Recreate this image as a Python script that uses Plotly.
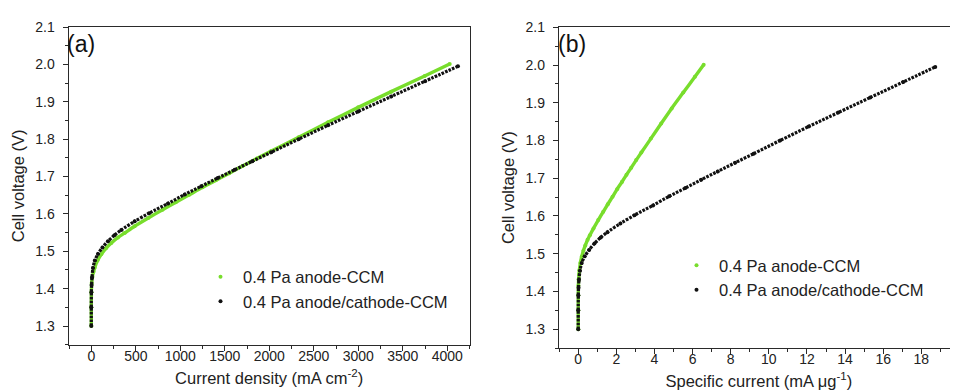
import plotly.graph_objects as go

# ---------------- data ----------------
# Panel (a): cell voltage vs current density (mA cm^-2)
a_green_current = [0, 0, 1, 4, 12, 25, 38, 70, 112, 165, 225, 300, 375, 487, 640, 800, 950,
                   1100, 1250, 1400, 1550, 1700, 1860, 2023, 2330, 2660, 3000, 3370, 3746, 4027]
a_green_voltage = [1.300, 1.350, 1.390, 1.415, 1.432, 1.445, 1.456, 1.475, 1.492, 1.508, 1.522,
                   1.537, 1.549, 1.567, 1.589, 1.611, 1.631, 1.651, 1.671, 1.690, 1.709, 1.728,
                   1.748, 1.768, 1.805, 1.845, 1.885, 1.927, 1.969, 2.001]

a_black_current = [0, 0, 1, 3, 8, 19, 40, 75, 125, 188, 260, 337, 487, 650, 862, 1050, 1236,
                   1420, 1611, 1810, 2023, 2330, 2660, 3000, 3370, 3750, 4120]
a_black_voltage = [1.300, 1.350, 1.390, 1.410, 1.430, 1.455, 1.475, 1.493, 1.510, 1.527, 1.543,
                   1.557, 1.580, 1.602, 1.628, 1.652, 1.674, 1.696, 1.718, 1.741, 1.765, 1.800,
                   1.837, 1.874, 1.914, 1.955, 1.995]

# Panel (b): cell voltage vs specific current (mA ug^-1)
b_green_current = [0, 0, 0.002, 0.007, 0.02, 0.04, 0.06, 0.11, 0.18, 0.27, 0.37, 0.49, 0.61,
                   0.80, 1.05, 1.31, 1.55, 1.80, 2.04, 2.29, 2.53, 2.78, 3.04, 3.31, 3.81, 4.35,
                   4.90, 5.51, 6.12, 6.58]
b_green_voltage = [1.300, 1.350, 1.390, 1.415, 1.432, 1.445, 1.456, 1.475, 1.492, 1.508, 1.522,
                   1.537, 1.549, 1.567, 1.589, 1.611, 1.631, 1.651, 1.671, 1.690, 1.709, 1.728,
                   1.748, 1.768, 1.805, 1.845, 1.885, 1.927, 1.969, 2.001]

b_black_current = [0, 0, 0.005, 0.014, 0.036, 0.09, 0.18, 0.34, 0.57, 0.85, 1.18, 1.53, 2.21,
                   2.95, 3.92, 4.77, 5.62, 6.45, 7.32, 8.23, 9.20, 10.59, 12.09, 13.64, 15.32,
                   17.05, 18.73]
b_black_voltage = [1.300, 1.350, 1.390, 1.410, 1.430, 1.455, 1.475, 1.493, 1.510, 1.527, 1.543,
                   1.557, 1.580, 1.602, 1.628, 1.652, 1.674, 1.696, 1.718, 1.741, 1.765, 1.800,
                   1.837, 1.874, 1.914, 1.955, 1.995]

series_names = ["0.4 Pa anode-CCM", "0.4 Pa anode/cathode-CCM"]
panel_labels = ["(a)", "(b)"]
x_titles = ["Current density (mA cm<sup>-2</sup>)", "Specific current (mA μg<sup>-1</sup>)"]
y_title = "Cell voltage (V)"

# ---------------- style ----------------
GREEN = "#78DD2C"
BLACK = "#111111"
AXIS = "#2a2a2a"
TXT = "#222222"
FONT = "Liberation Sans, Arial, sans-serif"
W, H = 958, 392

fig = go.Figure()

def add_panel(xg, yg, xb, yb, xa, ya, legend):
    fig.add_trace(go.Scatter(x=xg, y=yg, mode="lines",
                             line=dict(color=GREEN, width=3.4, shape="spline", smoothing=0.8),
                             xaxis=xa, yaxis=ya, showlegend=False, hoverinfo="skip"))
    fig.add_trace(go.Scatter(x=xg, y=yg, mode="markers", name=series_names[0],
                             marker=dict(color=GREEN, size=4), xaxis=xa, yaxis=ya,
                             legend=legend))
    fig.add_trace(go.Scatter(x=xb, y=yb, mode="lines",
                             line=dict(color=BLACK, width=3.2, dash="2.6px,1.2px",
                                       shape="spline", smoothing=0.8),
                             xaxis=xa, yaxis=ya, showlegend=False, hoverinfo="skip"))
    fig.add_trace(go.Scatter(x=xb, y=yb, mode="markers", name=series_names[1],
                             marker=dict(color=BLACK, size=4), xaxis=xa, yaxis=ya,
                             legend=legend))

add_panel(a_green_current, a_green_voltage, a_black_current, a_black_voltage, "x", "y", "legend")
add_panel(b_green_current, b_green_voltage, b_black_current, b_black_voltage, "x2", "y2", "legend2")

def px_x(p):
    return p / W

def px_y(p):
    return 1 - p / H

common_axis = dict(
    showline=True, linecolor=AXIS, linewidth=1.4, mirror=True,
    ticks="outside", ticklen=5, tickwidth=1.2, tickcolor=AXIS,
    showgrid=False, zeroline=False, automargin=False,
    tickfont=dict(family=FONT, size=14, color=TXT),
)
minor_common = dict(ticklen=3, tickwidth=1.1, tickcolor=AXIS, ticks="outside")
title_font = dict(family=FONT, size=16.5, color=TXT)

fig.update_layout(
    width=W, height=H,
    margin=dict(l=0, r=0, t=0, b=0),
    paper_bgcolor="white", plot_bgcolor="white",
    font=dict(family=FONT, color=TXT),
    xaxis=dict(domain=[px_x(60.7), px_x(461.7)], range=[-254, 4252], dtick=500, tick0=0,
               anchor="y", ticklabelstandoff=-7,
               minor=dict(dtick=250, **minor_common),
               title=dict(text=x_titles[0], font=title_font, standoff=9),
               **common_axis),
    yaxis=dict(domain=[px_y(336.7), px_y(19)], range=[1.25, 2.1], dtick=0.1, tick0=1.3,
               tickformat=".1f", anchor="x", ticklabelstandoff=5,
               minor=dict(dtick=0.05, **minor_common),
               title=dict(text=y_title, font=title_font, standoff=6),
               **common_axis),
    xaxis2=dict(domain=[px_x(551), px_x(950.7)], range=[-1.01, 19.96], dtick=2, tick0=0,
                anchor="y2", ticklabelstandoff=-7,
                minor=dict(dtick=1, **minor_common),
                title=dict(text=x_titles[1], font=title_font, standoff=9),
                **common_axis),
    yaxis2=dict(domain=[px_y(340), px_y(19.3)], range=[1.25, 2.1], dtick=0.1, tick0=1.3,
                tickformat=".1f", anchor="x2", ticklabelstandoff=5,
                minor=dict(dtick=0.05, **minor_common),
                title=dict(text=y_title, font=title_font, standoff=6),
                **common_axis),
    legend=dict(x=px_x(190), y=px_y(251.5), xanchor="left", yanchor="top", itemwidth=35,
                bgcolor="rgba(0,0,0,0)", borderwidth=0, tracegroupgap=0,
                font=dict(family=FONT, size=16.5, color=TXT)),
    legend2=dict(x=px_x(666), y=px_y(240), xanchor="left", yanchor="top", itemwidth=35,
                 bgcolor="rgba(0,0,0,0)", borderwidth=0, tracegroupgap=0,
                 font=dict(family=FONT, size=16.5, color=TXT)),
    showlegend=True,
)

fig.add_annotation(text=panel_labels[0], xref="paper", yref="paper",
                   x=px_x(57), y=px_y(36), xanchor="left", yanchor="middle",
                   showarrow=False, font=dict(family=FONT, size=23, color="#111"))
fig.add_annotation(text=panel_labels[1], xref="paper", yref="paper",
                   x=px_x(548), y=px_y(36), xanchor="left", yanchor="middle",
                   showarrow=False, font=dict(family=FONT, size=23, color="#111"))

fig.write_html("out.html")
